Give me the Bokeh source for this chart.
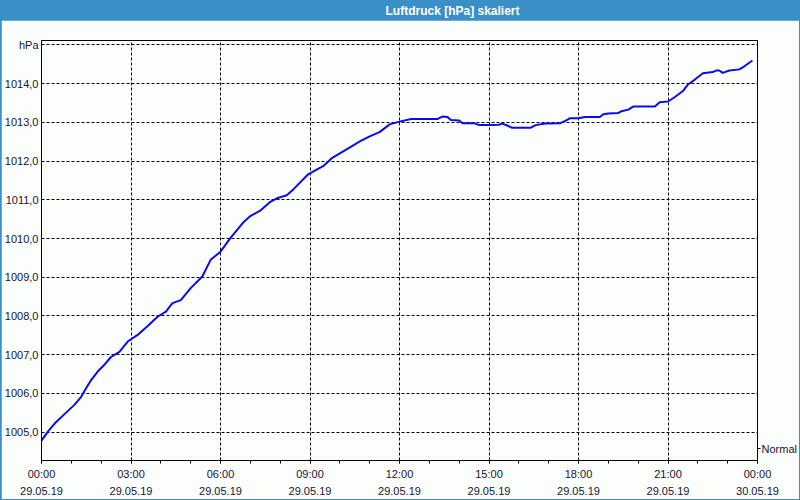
from bokeh.plotting import figure
from bokeh.models import FixedTicker, LinearAxis, Range1d, Label, Grid
from bokeh.layouts import column
from bokeh.embed import file_html
from bokeh.resources import INLINE

TITLE = "Luftdruck [hPa] skaliert"

hours = [0.0, 0.22, 0.44, 0.78, 1.11, 1.33, 1.5, 1.67, 1.89, 2.06, 2.33, 2.61, 2.89,
         3.22, 3.56, 3.89, 4.17, 4.39, 4.67, 5.0, 5.39, 5.67, 6.0, 6.33, 6.78, 7.0,
         7.33, 7.67, 7.89, 8.22, 8.44, 8.94, 9.22, 9.44, 9.72, 10.17, 10.67, 11.0,
         11.33, 11.67, 12.0, 12.39, 13.28, 13.44, 13.61, 13.72, 14.0, 14.11, 14.5,
         14.67, 15.0, 15.33, 15.44, 15.61, 15.78, 16.39, 16.56, 16.89, 17.39, 17.56,
         17.72, 18.0, 18.22, 18.72, 18.83, 19.0, 19.33, 19.44, 19.67, 19.83, 20.56,
         20.72, 21.0, 21.22, 21.5, 21.67, 21.89, 22.17, 22.5, 22.61, 22.72, 22.83,
         23.06, 23.39, 23.56, 23.83]
pressure = [1004.78, 1005.02, 1005.22, 1005.47, 1005.71, 1005.91, 1006.14, 1006.35,
            1006.57, 1006.70, 1006.94, 1007.07, 1007.34, 1007.51, 1007.74, 1007.98,
            1008.11, 1008.33, 1008.41, 1008.72, 1009.02, 1009.45, 1009.66, 1010.01,
            1010.43, 1010.58, 1010.72, 1010.95, 1011.04, 1011.12, 1011.27, 1011.66,
            1011.78, 1011.87, 1012.07, 1012.28, 1012.51, 1012.64, 1012.75, 1012.95,
            1013.02, 1013.09, 1013.09, 1013.15, 1013.14, 1013.06, 1013.05, 1012.98,
            1012.98, 1012.93, 1012.93, 1012.94, 1012.97, 1012.92, 1012.86, 1012.86,
            1012.93, 1012.97, 1012.98, 1013.04, 1013.11, 1013.11, 1013.14, 1013.14,
            1013.21, 1013.23, 1013.24, 1013.29, 1013.33, 1013.41, 1013.41, 1013.52,
            1013.54, 1013.65, 1013.81, 1013.98, 1014.10, 1014.27, 1014.30, 1014.34,
            1014.34, 1014.28, 1014.34, 1014.37, 1014.45, 1014.60]

x_ticks = [0, 3, 6, 9, 12, 15, 18, 21, 24]
x_tick_labels = ["00:00\n29.05.19", "03:00\n29.05.19", "06:00\n29.05.19",
                 "09:00\n29.05.19", "12:00\n29.05.19", "15:00\n29.05.19",
                 "18:00\n29.05.19", "21:00\n29.05.19", "00:00\n30.05.19"]
x_minor_ticks = list(range(0, 25))
y_ticks = [1005, 1006, 1007, 1008, 1009, 1010, 1011, 1012, 1013, 1014, 1015]
y_tick_labels = ["1005,0", "1006,0", "1007,0", "1008,0", "1009,0", "1010,0",
                 "1011,0", "1012,0", "1013,0", "1014,0", "hPa"]
normal_level = 1004.57
normal_label = "Normal"

BLUE = "#3b8fc7"
FONT = "Liberation Sans"
TXT = "#141432"

head = figure(width=798, height=20, x_range=Range1d(0, 798), y_range=Range1d(0, 20),
              output_backend="svg", toolbar_location=None, min_border=0,
              x_axis_type=None, y_axis_type=None)
head.outline_line_color = None
head.background_fill_color = BLUE
head.border_fill_color = BLUE
head.add_layout(Label(x=411, y=10, x_units="screen", y_units="screen", text=TITLE,
                      text_align="center", text_baseline="middle", text_color="white",
                      text_font_style="bold", text_font_size="12px", text_font=FONT))

p = figure(width=798, height=479, x_range=Range1d(0, 24),
           y_range=Range1d(1004.266, 1015.116), output_backend="svg",
           toolbar_location=None, min_border_left=39, min_border_right=39,
           min_border_top=20, min_border_bottom=38, x_axis_type=None, y_axis_type=None)
p.background_fill_color = "#fcfefc"
p.border_fill_color = "#fcfefc"
p.outline_line_color = "black"
p.outline_line_alpha = 1.0
p.outline_line_width = 1

xaxis = LinearAxis(ticker=FixedTicker(ticks=x_ticks, minor_ticks=x_minor_ticks),
                   major_label_overrides=dict(zip(x_ticks, x_tick_labels)))
xaxis.major_tick_out = 3
xaxis.major_tick_in = 0
xaxis.minor_tick_out = 3
xaxis.minor_tick_in = 0
xaxis.major_label_standoff = 4
xaxis.major_label_text_font = FONT
xaxis.major_label_text_font_size = "11px"
xaxis.major_label_text_color = TXT
xaxis.major_label_text_line_height = 1.45
xaxis.axis_line_color = "black"
xaxis.major_tick_line_color = "black"
xaxis.minor_tick_line_color = "black"
p.add_layout(xaxis, "below")

yaxis = LinearAxis(ticker=FixedTicker(ticks=y_ticks, minor_ticks=[]),
                   major_label_overrides=dict(zip(y_ticks, y_tick_labels)))
yaxis.major_tick_out = 0
yaxis.major_tick_in = 0
yaxis.minor_tick_out = 0
yaxis.minor_tick_in = 0
yaxis.major_label_standoff = 3
yaxis.major_label_text_font = FONT
yaxis.major_label_text_font_size = "11px"
yaxis.major_label_text_color = TXT
yaxis.axis_line_color = "black"
p.add_layout(yaxis, "left")

raxis = LinearAxis(ticker=FixedTicker(ticks=[normal_level], minor_ticks=[]),
                   major_label_overrides={normal_level: normal_label})
raxis.major_tick_out = 3
raxis.major_tick_in = 0
raxis.minor_tick_out = 0
raxis.minor_tick_in = 0
raxis.major_label_standoff = 1
raxis.major_label_text_font = FONT
raxis.major_label_text_font_size = "11px"
raxis.major_label_text_color = TXT
raxis.axis_line_color = "black"
raxis.major_tick_line_color = "black"
p.add_layout(raxis, "right")

p.add_layout(Grid(dimension=0, ticker=FixedTicker(ticks=x_ticks), grid_line_color="black",
                  grid_line_dash="3 2", grid_line_width=1))
p.add_layout(Grid(dimension=1, ticker=FixedTicker(ticks=y_ticks), grid_line_color="black",
                  grid_line_dash="3 2", grid_line_width=1))

p.line(hours, pressure, line_color="#0a0af0", line_width=2)

layout = column(head, p, spacing=0,
                styles={"background-color": BLUE, "padding": "0px 1px 1px 1px"})

open("out.html", "w").write(file_html(layout, INLINE))
